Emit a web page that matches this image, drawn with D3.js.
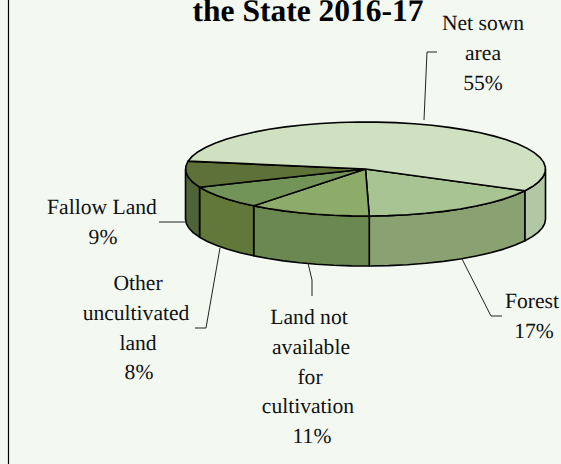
<!DOCTYPE html>
<html><head><meta charset="utf-8">
<script src="https://cdnjs.cloudflare.com/ajax/libs/d3/7.8.5/d3.min.js"></script>
<style>html,body{margin:0;padding:0;background:#fff}svg{display:block}text{text-rendering:geometricPrecision}</style></head>
<body><svg id="c" width="561" height="464"></svg>
<script>
const categories=["Forest","Land not available for cultivation","Other uncultivated land","Fallow Land","Net sown area"];
const values=[17,11,8,9,55];
const topColors=["#a8c492","#8dac69","#739458","#5d7138","#cfe1c0"];
const sideColors=["#8aa272","#6b8850","#62773a","#4f6338","#b2c8a4"];
const labelLines=[["Forest","17%"],["Land not","available","for","cultivation","11%"],["Other","uncultivated","land","8%"],["Fallow Land","9%"],["Net sown","area","55%"]];
const labelX=[[532,534],[309,311,310,308,312],[138,136,138,139],[102,103],[483,483,483]];
const labelY=[308,324,290,214,30];
const leaders=[[[462,259],[491,316],[502,316]],[[308,263],[312,280],[312,296]],[[220,248],[206,328],[195,328]],[[185,222],[159,222]],[[424,120],[427,52],[437,52]]];
const titleText="the State 2016-17";

const svg=d3.select("#c");
svg.append("rect").attr("width",561).attr("height",464).attr("fill","#f3f8f1");
svg.append("line").attr("x1",8.5).attr("x2",8.5).attr("y1",0).attr("y2",464).attr("stroke","#000").attr("stroke-width",1.2);
const cx=365.5,cy=169,rx=180,ry=47,depth=50;
const xS=d3.scaleLinear().domain([-1,1]).range([cx-rx,cx+rx]);
const yS=d3.scaleLinear().domain([-1,1]).range([cy-ry,cy+ry]);
const start=117.6*Math.PI/180;
const arcs=d3.pie().sort(null).startAngle(start).endAngle(start+2*Math.PI)(values);
const line=d3.line();
const STEP=6*Math.PI/180;
function pt(t,d=0){return [xS(Math.sin(t)),yS(-Math.cos(t))+d];}
function samples(a0,a1){const n=Math.max(1,Math.round((a1-a0)/STEP));return d3.range(n+1).map(i=>a0+(a1-a0)*i/n);}
const PI=Math.PI;
function frontParts(a0,a1){const out=[];for(const k of [0,1]){const lo=Math.max(a0,PI/2+k*2*PI),hi=Math.min(a1,3*PI/2+k*2*PI);if(hi>lo)out.push([lo,hi]);}return out;}
const g=svg.append("g").attr("stroke","#000").attr("stroke-linejoin","round");
arcs.forEach((a,i)=>{frontParts(a.startAngle,a.endAngle).forEach(([lo,hi])=>{
  const ts=samples(lo,hi);
  const p=ts.map(t=>pt(t)).concat(ts.slice().reverse().map(t=>pt(t,depth)));
  g.append("path").attr("d",line(p)+"Z").attr("fill",sideColors[i]).attr("stroke-width",1.6);
});});
arcs.forEach((a,i)=>{
  const p=[[xS(0),yS(0)]].concat(samples(a.startAngle,a.endAngle).map(t=>pt(t)));
  g.append("path").attr("d",line(p)+"Z").attr("fill",topColors[i]).attr("stroke-width",1.6);
});
svg.append("g").attr("fill","none").attr("stroke","#222").attr("stroke-width",1)
  .selectAll("path").data(leaders).join("path").attr("d",d=>line(d));
const font="'Liberation Serif',serif";
svg.append("text").attr("x",308).attr("y",21).attr("text-anchor","middle").attr("font-family",font)
  .attr("font-weight","bold").attr("font-size",31.5).attr("fill","#000").text(titleText);
labelLines.forEach((ls,i)=>{ls.forEach((s,j)=>{
  svg.append("text").attr("x",labelX[i][j]).attr("y",labelY[i]+j*29.75).attr("text-anchor","middle")
   .attr("font-family",font).attr("font-size",21.6).attr("fill","#111").text(s);
});});
</script></body></html>
